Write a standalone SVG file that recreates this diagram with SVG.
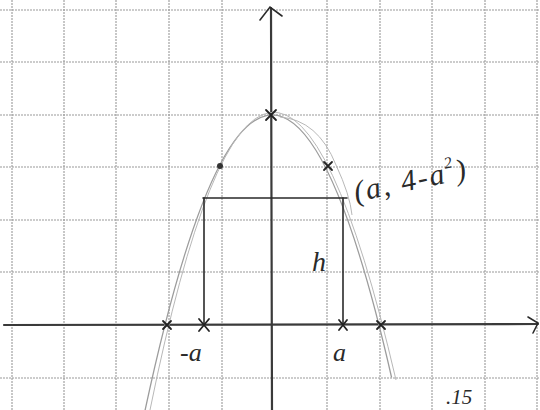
<svg xmlns="http://www.w3.org/2000/svg" width="540" height="410" viewBox="0 0 540 410">
<style>
.grid line{stroke:#9a9a9a;stroke-width:1.1;stroke-dasharray:2 1}
.axis{stroke:#3a3a3a;stroke-width:2.2;fill:none;stroke-linecap:round}
.curve{stroke:#9c9c9c;stroke-width:1.3;fill:none}
.curve2{stroke:#b8b8b8;stroke-width:1;fill:none}
.ink{stroke:#2a2a2a;stroke-width:1.6;fill:none;stroke-linecap:round}
.mark{stroke:#222;stroke-width:1.8;fill:none;stroke-linecap:round}
.lbl{font-family:"Liberation Serif","DejaVu Serif",serif;font-style:italic;fill:#2a2a2a}
</style>
<rect width="540" height="410" fill="#fff"/>
<g class="grid" id="grid">
<line x1="0" y1="10" x2="540" y2="10"/><line x1="0" y1="62" x2="540" y2="62"/>
<line x1="0" y1="115" x2="540" y2="115"/><line x1="0" y1="167" x2="540" y2="167"/>
<line x1="0" y1="220" x2="540" y2="220"/><line x1="0" y1="272" x2="540" y2="272"/>
<line x1="0" y1="378" x2="540" y2="378"/>
<line x1="12" y1="0" x2="12" y2="410"/><line x1="64" y1="0" x2="64" y2="410"/>
<line x1="116" y1="0" x2="116" y2="410"/><line x1="169" y1="0" x2="169" y2="410"/>
<line x1="222" y1="0" x2="222" y2="410"/><line x1="327" y1="0" x2="327" y2="410"/>
<line x1="380" y1="0" x2="380" y2="410"/><line x1="432" y1="0" x2="432" y2="410"/>
<line x1="485" y1="0" x2="485" y2="410"/><line x1="537" y1="0" x2="537" y2="410"/>
</g>
<g id="axes">
<line class="axis" x1="4" y1="325" x2="538" y2="324"/>
<line class="axis" x1="271" y1="8" x2="272" y2="410"/>
<polyline class="ink" points="260,20 270,7 282,16"/>
<polyline class="ink" points="528,317 538,323 533,333"/>
</g>
<g id="parabola">
<path class="curve" d="M140.9,430 Q266.3,-172.6 391.6,377.5"/>
<path class="curve2" d="M150,410 Q268,-170 396,380"/>
<path class="curve2" d="M280,117 Q318,120 336,165 Q350,195 352,215"/>
</g>
<g id="points">
<path class="mark" d="M266,110 L276,120 M266,120 L276,110"/>
<circle cx="220" cy="166" r="3" fill="#333"/>
<path class="mark" d="M324,162 L332,170 M324,170 L332,162"/>
<path class="mark" d="M163,321 L171,329 M163,329 L171,321"/>
<path class="mark" d="M377,321 L385,329 M377,329 L385,321"/>
</g>
<g id="connectors">
<line class="ink" x1="203" y1="198" x2="347" y2="198"/>
<line class="ink" x1="204" y1="198" x2="204" y2="325"/>
<line class="ink" x1="343" y1="198" x2="343" y2="325"/>
<path class="mark" d="M199,319 L209,331 M209,319 L199,331"/>
<path class="mark" d="M339,320 L347,330 M339,330 L347,320"/>
</g>
<g id="labels">
<text class="lbl" x="180" y="361" font-size="26">-a</text>
<text class="lbl" x="333" y="361" font-size="26">a</text>
<text class="lbl" x="312" y="271" font-size="28">h</text>
<text class="lbl" x="356" y="202" font-size="30" letter-spacing="2" transform="rotate(-12 356 202)">(a, 4-a<tspan font-size="16" dy="-14">2</tspan><tspan dy="14">)</tspan></text>
<text class="lbl" x="446" y="404" font-size="21">.15</text>
</g>
</svg>
